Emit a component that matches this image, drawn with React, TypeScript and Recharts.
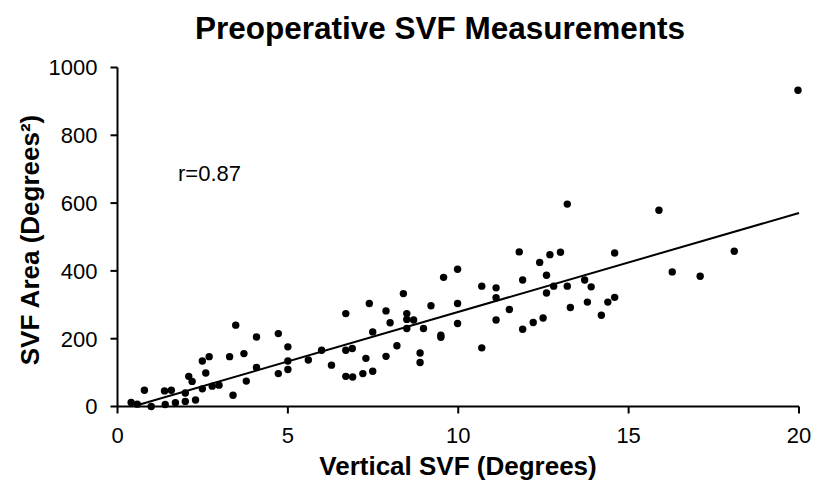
import React from 'react';
import { ScatterChart, Scatter, XAxis, YAxis, ReferenceLine } from 'recharts';

// Vertical SVF (degrees) vs SVF area (degrees^2)
const verticalSvf = [
  0.4, 0.58, 0.79, 0.99, 1.38, 1.58, 1.4, 1.7, 1.99, 1.99, 2.29, 2.09, 2.19, 2.49, 2.49, 2.69, 2.59, 2.78,
  2.98, 3.29, 3.39, 3.47, 3.71, 3.78, 4.08, 4.08, 4.72, 4.72, 5.0, 5.0, 5.0, 5.6, 5.99, 6.28, 6.7, 6.7,
  6.89, 6.7, 6.9, 7.2, 7.49, 7.29, 7.39, 7.49, 7.88, 8.0, 7.88, 8.2, 8.39, 8.49, 8.49, 8.69, 8.49, 8.98,
  8.88, 8.88, 9.2, 9.49, 9.49, 9.57, 9.98, 9.98, 9.98, 10.69, 10.69, 11.11, 11.11, 11.11, 11.5, 11.79,
  11.89, 11.89, 12.2, 12.39, 12.49, 12.59, 12.59, 12.69, 12.8, 13.0, 13.2, 13.29, 13.71, 13.9, 13.79,
  14.2, 14.39, 14.59, 14.59, 15.89, 16.28, 17.1, 18.1, 19.97, 13.2,
];
const svfArea = [
  12, 7, 48, 0, 46, 48, 6, 11, 15, 40, 19, 89, 74, 52, 134, 147, 99, 60,
  63, 147, 33, 240, 156, 75, 205, 115, 215, 97, 176, 134, 109, 137, 166, 122, 274, 166,
  171, 89, 87, 97, 104, 142, 304, 220, 282, 247, 148, 179, 333, 274, 257, 255, 230, 230,
  158, 130, 297, 210, 204, 381, 405, 304, 245, 355, 173, 350, 321, 255, 286, 456,
  373, 228, 248, 425, 261, 387, 335, 448, 355, 455, 355, 292, 373, 353, 308,
  269, 308, 322, 453, 579, 397, 384, 458, 933, 597,
];
const points = verticalSvf.map((x, i) => ({ x, y: svfArea[i] }));

// fitted trend line end points
const trendStart = { x: 0.65, y: 6 };
const trendEnd = { x: 20, y: 571 };

const xTicks = [0, 5, 10, 15, 20];
const yTicks = [0, 200, 400, 600, 800, 1000];

const FONT = 'Liberation Sans, Arial, sans-serif';

const Dot = (props: any) => <circle cx={props.cx} cy={props.cy} r={3.7} fill="#000" />;

export default function App() {
  return (
    <div style={{ position: 'absolute', left: 0, top: 0, width: 813, height: 482, background: '#fff' }}>
      <ScatterChart width={813} height={482} margin={{ top: 67.5, right: 14, bottom: 35.5, left: 57.5 }}>
        <XAxis
          type="number"
          dataKey="x"
          domain={[0, 20]}
          ticks={xTicks}
          height={40}
          axisLine={{ stroke: '#000', strokeWidth: 2 }}
          tickLine={{ stroke: '#000', strokeWidth: 2 }}
          tickSize={7}
          tickMargin={14}
          tick={{ fill: '#000', fontSize: 22, fontFamily: FONT }}
        />
        <YAxis
          type="number"
          dataKey="y"
          domain={[0, 1000]}
          ticks={yTicks}
          width={60}
          axisLine={{ stroke: '#000', strokeWidth: 2 }}
          tickLine={{ stroke: '#000', strokeWidth: 2 }}
          tickSize={7}
          tickMargin={13}
          tick={{ fill: '#000', fontSize: 22, fontFamily: FONT }}
        />
        <ReferenceLine segment={[trendStart, trendEnd]} stroke="#000" strokeWidth={2} ifOverflow="visible" />
        <Scatter data={points} shape={Dot} isAnimationActive={false} />
      </ScatterChart>
      <svg
        width={813}
        height={482}
        style={{ position: 'absolute', left: 0, top: 0, pointerEvents: 'none' }}
        fontFamily={FONT}
      >
        <text x={440} y={39} textAnchor="middle" fontSize={31.5} fontWeight="bold" fill="#000">
          Preoperative SVF Measurements
        </text>
        <text x={178} y={181} fontSize={22} fill="#000">
          r=0.87
        </text>
        <text x={458} y={475} textAnchor="middle" fontSize={26} fontWeight="bold" fill="#000">
          Vertical SVF (Degrees)
        </text>
        <text
          transform="translate(39, 240) rotate(-90)"
          textAnchor="middle"
          fontSize={26}
          fontWeight="bold"
          fill="#000"
        >
          SVF Area (Degrees²)
        </text>
      </svg>
    </div>
  );
}
